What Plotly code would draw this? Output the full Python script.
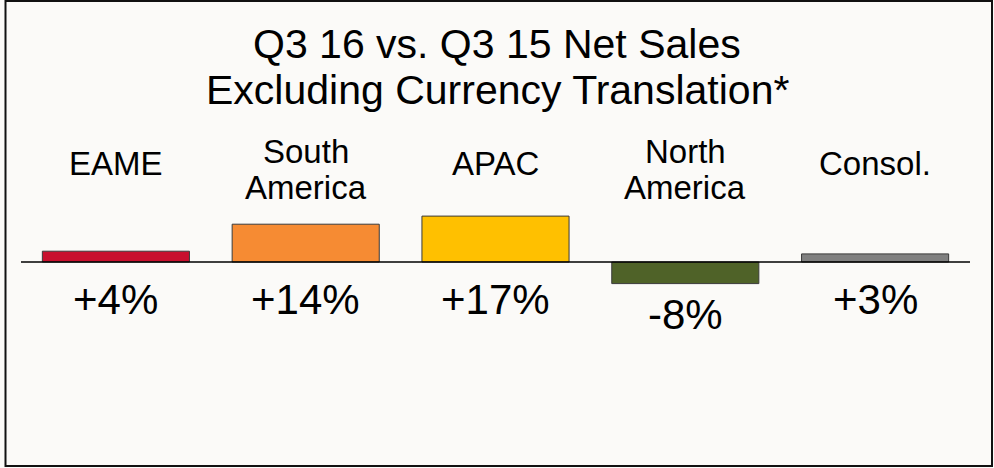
import plotly.graph_objects as go

# ---- data ----
categories = ["EAME", "South America", "APAC", "North America", "Consol."]
category_labels = [["EAME"], ["South", "America"], ["APAC"], ["North", "America"], ["Consol."]]
growth_pct = [4, 14, 17, -8, 3]
value_labels = ["+4%", "+14%", "+17%", "-8%", "+3%"]
bar_colors = ["#C8102E", "#F68B33", "#FFC000", "#4F6228", "#808080"]
title_lines = ["Q3 16 vs. Q3 15 Net Sales", "Excluding Currency Translation*"]

# ---- layout geometry (window pixels) ----
W, H = 994, 468
L, R, T, B = 21, 24, 100, 28
plot_h = H - T - B
FONT = "Arial, Liberation Sans, sans-serif"


def py(pix):
    """window pixel row -> paper y"""
    return (H - B - pix) / plot_h


def px(pix):
    """window pixel column -> paper x"""
    return (pix - L) / (W - L - R)


fig = go.Figure()
fig.add_trace(go.Bar(
    x=categories,
    y=growth_pct,
    marker=dict(color=bar_colors, line=dict(color="#3a3a3a", width=1)),
    width=0.775,
    hoverinfo="skip",
))

annotations = []
# title
for text, center in zip(title_lines, [44, 90]):
    annotations.append(dict(
        x=px(W / 2), y=py(center), xref="paper", yref="paper",
        text=text, showarrow=False, xanchor="center", yanchor="middle",
        font=dict(family=FONT, size=41, color="#000000"),
    ))

# category labels
for cat, lines in zip(categories, category_labels):
    centers = [163] if len(lines) == 1 else [151, 187]
    for line, c in zip(lines, centers):
        annotations.append(dict(
            x=cat, y=py(c), xref="x", yref="paper",
            text=line, showarrow=False, xanchor="center", yanchor="middle",
            font=dict(family=FONT, size=33, color="#000000"),
        ))

# value labels
for cat, v, lab in zip(categories, growth_pct, value_labels):
    annotations.append(dict(
        x=cat, y=min(v, 0), xref="x", yref="y",
        text=lab, showarrow=False, xanchor="center", yanchor="middle",
        yshift=-37 if v >= 0 else -31,
        font=dict(family=FONT, size=42, color="#000000"),
    ))

shapes = [
    # baseline
    dict(type="line", xref="paper", yref="y", x0=0, x1=1, y0=0, y1=0,
         line=dict(color="#000000", width=1.5), layer="above"),
    # outer frame
    dict(type="rect", xref="paper", yref="paper",
         x0=px(5.5), x1=px(992), y0=py(1), y1=py(466),
         line=dict(color="#111111", width=2), layer="above"),
]

fig.update_layout(
    width=W, height=H,
    margin=dict(l=L, r=R, t=T, b=B),
    paper_bgcolor="#FBFAF8",
    plot_bgcolor="#FBFAF8",
    showlegend=False,
    bargap=0.225,
    xaxis=dict(visible=False, range=[-0.5, 4.5], fixedrange=True),
    yaxis=dict(visible=False, range=[-65.926, 60], fixedrange=True),
    annotations=annotations,
    shapes=shapes,
)

# remove the browser's default page margin so the figure sits at (0, 0)
fig.write_html(
    "out.html",
    config={"displayModeBar": False},
    post_script="document.body.style.margin='0px';",
)
